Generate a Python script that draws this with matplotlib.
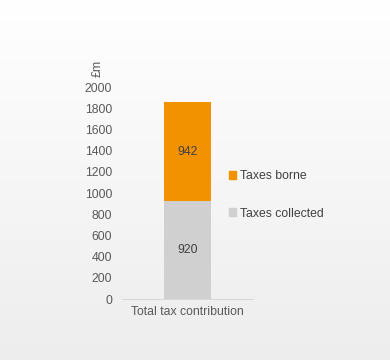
import numpy as np
import matplotlib
matplotlib.use("Agg")
import matplotlib.pyplot as plt
from matplotlib.patches import Patch

# data
categories = ["Total tax contribution"]
taxes_collected = [920]
taxes_borne = [942]
series_labels = ["Taxes collected", "Taxes borne"]
yticks = [0, 200, 400, 600, 800, 1000, 1200, 1400, 1600, 1800, 2000]

plt.rcParams["font.family"] = ["Liberation Sans", "DejaVu Sans"]

fig = plt.figure(figsize=(3.9, 3.6), dpi=100)

# background gradient, white at top to light grey at bottom
bg = fig.add_axes([0, 0, 1, 1], zorder=-10)
grad = np.linspace(1.0, 0.93, 256).reshape(-1, 1)
bg.imshow(np.dstack([grad, grad, grad]), aspect="auto", extent=[0, 1, 0, 1])
bg.axis("off")

ax = fig.add_axes([122 / 390, 61 / 360, 131 / 390, 212 / 360])
ax.patch.set_alpha(0)

x = np.arange(len(categories))
w = 0.36
gray = "#d0d0d0"
orange = "#f39200"
fs = 8.8
ax.bar(x, taxes_collected, width=w, color=gray, zorder=2)
ax.bar(x, taxes_borne, width=w, bottom=taxes_collected, color=orange, zorder=2)

for i in range(len(categories)):
    ax.text(x[i], taxes_collected[i] / 2, str(taxes_collected[i]), ha="center", va="center",
            fontsize=fs, color="#404040")
    ax.text(x[i], taxes_collected[i] + taxes_borne[i] / 2, str(taxes_borne[i]), ha="center",
            va="center", fontsize=fs, color="#404040")

ax.set_xlim(-0.5, 0.5)
ax.set_ylim(0, 2000)
ax.set_yticks(yticks)
ax.set_xticks(x)
ax.set_xticklabels(categories)
ax.tick_params(axis="both", length=0, labelsize=fs, labelcolor="#595959")
ax.tick_params(axis="y", pad=7)
ax.tick_params(axis="x", pad=5)
for s in ["top", "right", "left"]:
    ax.spines[s].set_visible(False)
ax.spines["bottom"].set_color("#d9d9d9")

fig.text(98 / 390, 1 - 68 / 360, "£m", rotation=90, ha="center", va="center",
         fontsize=fs, color="#595959")

handles = [Patch(color=orange), Patch(color=gray)]
fig.legend(handles, ["Taxes borne", "Taxes collected"], loc="upper left",
           bbox_to_anchor=(218 / 390, 1 - 159 / 360), frameon=False, fontsize=fs,
           labelcolor="#404040", handlelength=0.6, handleheight=0.6, handletextpad=0.3,
           labelspacing=2.1)

fig.savefig("out.png", dpi=100)
